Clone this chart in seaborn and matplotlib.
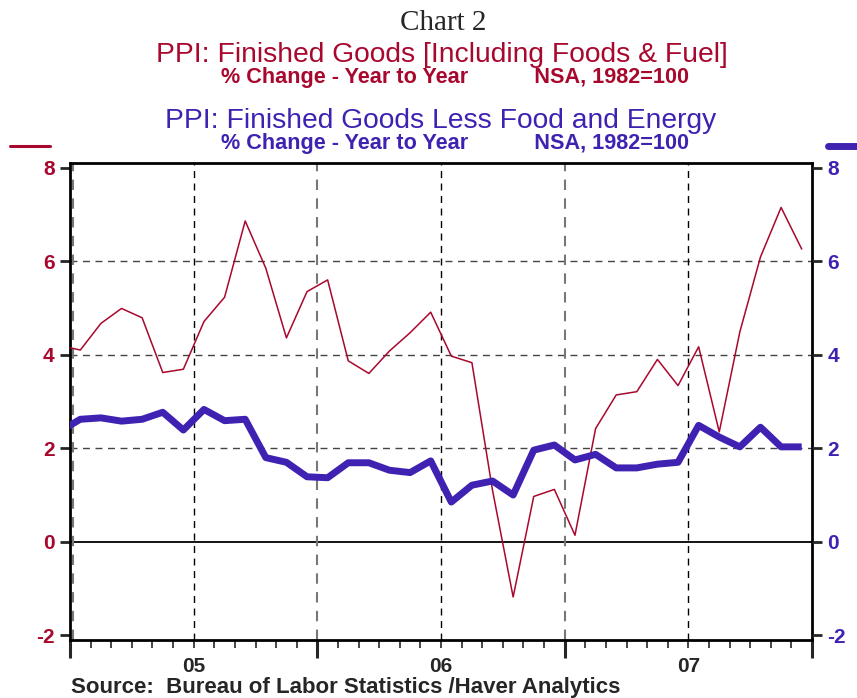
import numpy as np
import pandas as pd
import matplotlib
matplotlib.use("Agg")
import matplotlib.pyplot as plt
import seaborn as sns
from matplotlib.ticker import FixedLocator, NullFormatter

sns.set_style("white")
plt.rcParams['font.family'] = ['Liberation Sans', 'DejaVu Sans']

# ---- data (monthly, Dec 2004 .. Dec 2007) ----
months = list(pd.period_range("2004-12", "2007-12", freq="M").astype(str))
ppi_total = [4.20, 4.10, 4.67, 4.99, 4.79, 3.62, 3.69, 4.71, 5.23, 6.86, 5.85, 4.36, 5.35,
             5.60, 3.87, 3.60, 4.08, 4.47, 4.91, 3.97, 3.83, 1.10, -1.18, 0.97, 1.12,
             0.14, 2.42, 3.14, 3.21, 3.90, 3.34, 4.17, 2.35, 4.49, 6.09, 7.15, 6.26]
ppi_core = [2.36, 2.62, 2.65, 2.58, 2.62, 2.77, 2.39, 2.83, 2.59, 2.62, 1.80, 1.70, 1.39,
            1.37, 1.69, 1.69, 1.53, 1.48, 1.73, 0.85, 1.21, 1.30, 1.00, 1.96, 2.07,
            1.75, 1.87, 1.58, 1.58, 1.66, 1.70, 2.49, 2.24, 2.03, 2.45, 2.03, 2.03]
year_labels = ["05", "06", "07"]
y_ticks = [-2, 0, 2, 4, 6, 8]

RED = "#A8082E"
PURPLE = "#4022B2"

# month position: months since Jan 2005, centered within the month
per = pd.PeriodIndex(months, freq="M")
xpos = (per.year - 2005) * 12 + (per.month - 1) + 0.5
df = pd.DataFrame({"x": xpos, "total": ppi_total, "core": ppi_core})

W, H = 857, 698
fig = plt.figure(figsize=(W / 100, H / 100), dpi=100)
ax = fig.add_axes([70 / W, 1 - 640 / H, (812 - 70) / W, (640 - 163) / H])

ax.set_xlim(0, 36)
ax.set_ylim(-2.1, 8.1)

# grid
for v in [2, 4, 6]:
    ax.axhline(v, color="#444444", lw=1.0, ls=(0, (5, 4)), zorder=1)
ax.axhline(0, color="black", lw=1.3, zorder=1)
for v in [0.15, 12, 24]:
    ax.axvline(v, color="#777777", lw=1.5, ls=(0, (5, 4)), zorder=1)
for v in [6, 18, 30]:
    ax.axvline(v, color="black", lw=1.0, ls=(0, (5, 4)), zorder=1)

sns.lineplot(data=df, x="x", y="total", ax=ax, color=RED, lw=1.1, zorder=3)
sns.lineplot(data=df, x="x", y="core", ax=ax, color=PURPLE, lw=5.0, zorder=4,
             solid_capstyle="butt")
ax.set_xlabel("")
ax.set_ylabel("")

for s in ax.spines.values():
    s.set_linewidth(2.0)
    s.set_color("black")

# x ticks
ax.xaxis.set_major_locator(FixedLocator([0, 12, 24, 36]))
ax.xaxis.set_minor_locator(FixedLocator([m for m in range(37) if m % 12]))
ax.xaxis.set_major_formatter(NullFormatter())
ax.tick_params(axis="x", which="major", direction="out", length=13, width=2.2, bottom=True)
ax.tick_params(axis="x", which="minor", direction="out", length=6, width=1.2, bottom=True)


def fx(px):
    return px / W


def fy(py):
    return 1 - py / H


for i, lab in enumerate(year_labels):
    ax.text(6 + 12 * i, fy(657), lab,
            transform=matplotlib.transforms.blended_transform_factory(ax.transData, fig.transFigure),
            ha="center", va="top", fontsize=15, fontweight="bold")

# y ticks
ax.set_yticks(y_ticks)
ax.set_yticklabels([str(t) for t in y_ticks])
ax.tick_params(axis="y", direction="out", length=7, width=2, left=True,
               labelsize=15, labelcolor=RED, pad=4)
for t in ax.get_yticklabels():
    t.set_fontweight("bold")

ax2 = ax.twinx()
ax2.set_ylim(ax.get_ylim())
ax2.set_yticks(y_ticks)
ax2.set_yticklabels([str(t) for t in y_ticks])
ax2.tick_params(axis="y", direction="out", length=7, width=2, right=True,
                labelsize=15, labelcolor=PURPLE, pad=4)
for t in ax2.get_yticklabels():
    t.set_fontweight("bold")
for s in ax2.spines.values():
    s.set_visible(False)

fig.text(fx(443), fy(23), "Chart 2", ha="center", va="center", fontsize=21,
         family="Liberation Serif")
fig.text(fx(442), fy(55), "PPI: Finished Goods [Including Foods & Fuel]", ha="center",
         va="center", fontsize=20.3, color=RED)
sub = "% Change - Year to Year           NSA, 1982=100"
fig.text(fx(455), fy(78), sub, ha="center",
         va="center", fontsize=15.6, color=RED, fontweight="bold")
fig.text(fx(441), fy(121), "PPI: Finished Goods Less Food and Energy", ha="center",
         va="center", fontsize=20.3, color=PURPLE)
fig.text(fx(455), fy(143), sub, ha="center",
         va="center", fontsize=15.6, color=PURPLE, fontweight="bold")

# legend keys
fig.add_artist(plt.Line2D([fx(10), fx(50)], [fy(146), fy(146)], color=RED, lw=2.2))
fig.add_artist(plt.Line2D([fx(828), fx(857)], [fy(146), fy(146)], color=PURPLE, lw=5,
                          solid_capstyle="round"))

fig.text(fx(71), fy(688), "Source:  Bureau of Labor Statistics /Haver Analytics",
         ha="left", va="center", fontsize=16, fontweight="bold")

fig.savefig("out.png", dpi=100)
